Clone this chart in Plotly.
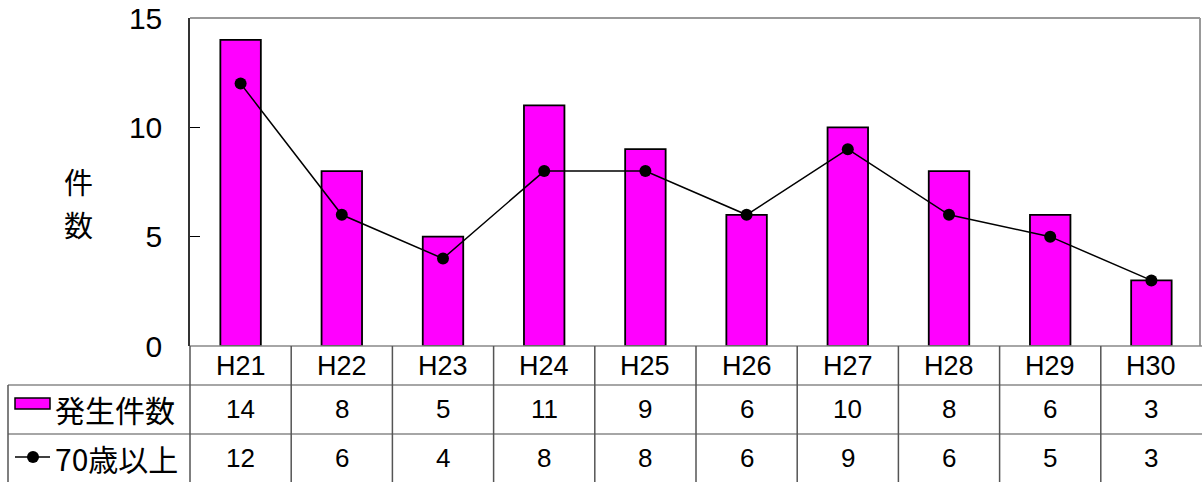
import plotly.graph_objects as go

years = ["H21", "H22", "H23", "H24", "H25", "H26", "H27", "H28", "H29", "H30"]
incidents = [14, 8, 5, 11, 9, 6, 10, 8, 6, 3]
elderly = [12, 6, 4, 8, 8, 6, 9, 6, 5, 3]
series_names = ["発生件数", "70歳以上"]
y_title_chars = ["件", "数"]
y_ticks = [0, 5, 10, 15]

W, H = 1202, 482
L, R, T, B = 190, 0, 18, 136
PW = W - L - R
PH = H - T - B


def px(x):
    return (x - L) / PW


def py(y):
    return (H - B - y) / PH


FONT = "Liberation Sans, Arial, Noto Sans CJK JP"
JFONT = "Noto Sans CJK JP, Liberation Sans"

fig = go.Figure()
fig.add_trace(go.Bar(
    x=years, y=incidents, name=series_names[0], width=0.4,
    marker=dict(color="#FF00FF", line=dict(color="black", width=1.8)),
    showlegend=False,
))
fig.add_trace(go.Scatter(
    x=years, y=elderly, name=series_names[1], mode="lines+markers",
    line=dict(color="black", width=1.5),
    marker=dict(color="black", size=12),
    showlegend=False,
))

shapes = []
# plot frame (top and right, gray)
shapes.append(dict(type="line", xref="paper", yref="paper", x0=0, x1=px(1200), y0=1, y1=1,
                   line=dict(color="#999999", width=2)))
shapes.append(dict(type="line", xref="paper", yref="paper", x0=px(1200), x1=px(1200), y0=0, y1=1,
                   line=dict(color="#999999", width=2)))
# table horizontal lines
hl = "#888888"
vl = "#555555"
shapes.append(dict(type="line", xref="paper", yref="paper", x0=0, x1=1, y0=0, y1=0,
                   line=dict(color=hl, width=1.5)))
for yy in (385, 434):
    shapes.append(dict(type="line", xref="paper", yref="paper", x0=px(8), x1=1, y0=py(yy), y1=py(yy),
                       line=dict(color=hl, width=1.5)))
# table vertical lines
shapes.append(dict(type="line", xref="paper", yref="paper", x0=0, x1=0, y0=0, y1=py(490),
                   line=dict(color=vl, width=1.5)))
shapes.append(dict(type="line", xref="paper", yref="paper", x0=px(8), x1=px(8), y0=py(385), y1=py(490),
                   line=dict(color=vl, width=1.5)))
for i in range(1, len(years)):
    shapes.append(dict(type="line", xref="x", yref="paper", x0=i - 0.5, x1=i - 0.5, y0=0, y1=py(490),
                       line=dict(color=vl, width=1.5)))
# legend keys in table
shapes.append(dict(type="rect", xref="paper", yref="paper", x0=px(15), x1=px(50), y0=py(409), y1=py(398),
                   fillcolor="#FF00FF", line=dict(color="black", width=1.5)))
shapes.append(dict(type="line", xref="paper", yref="paper", x0=px(15), x1=px(50), y0=py(457), y1=py(457),
                   line=dict(color="black", width=1.5)))
shapes.append(dict(type="circle", xref="paper", yref="paper", x0=px(27), x1=px(39), y0=py(463), y1=py(451),
                   fillcolor="black", line=dict(color="black", width=0)))

ann = []


def add_text(x, y, text, font, size, xref="paper", xanchor="center"):
    ann.append(dict(x=x, y=y, xref=xref, yref="paper", text=text, showarrow=False,
                    xanchor=xanchor, yanchor="middle",
                    font=dict(family=font, size=size, color="black")))


for i, yr in enumerate(years):
    add_text(yr, py(366), yr, FONT, 27, xref="x")
    add_text(yr, py(409), str(incidents[i]), FONT, 26, xref="x")
    add_text(yr, py(458), str(elderly[i]), FONT, 26, xref="x")
add_text(px(53), py(409), series_names[0], JFONT, 30, xanchor="left")
add_text(px(53), py(458), series_names[1], JFONT, 30, xanchor="left")
for k, ch in enumerate(y_title_chars):
    add_text(px(78), py(181 + 43 * k), ch, JFONT, 29)

fig.update_layout(
    width=W, height=H,
    margin=dict(l=L, r=R, t=T, b=B),
    paper_bgcolor="white", plot_bgcolor="white",
    xaxis=dict(type="category", range=[-0.5, len(years) - 0.5], showticklabels=False,
               showgrid=False, zeroline=False, showline=False, ticks=""),
    yaxis=dict(range=[0, 15], tickvals=y_ticks, ticks="inside", ticklen=10, tickcolor="black",
               tickwidth=1, showline=True, linecolor="#333333", linewidth=1.5, showgrid=False,
               zeroline=False, tickfont=dict(family=FONT, size=30, color="black"),
               ticklabelstandoff=20),
    shapes=shapes,
    annotations=ann,
)

fig.write_html("out.html", config={"displayModeBar": False},
               post_script="document.body.style.margin='0';document.body.style.padding='0';")
